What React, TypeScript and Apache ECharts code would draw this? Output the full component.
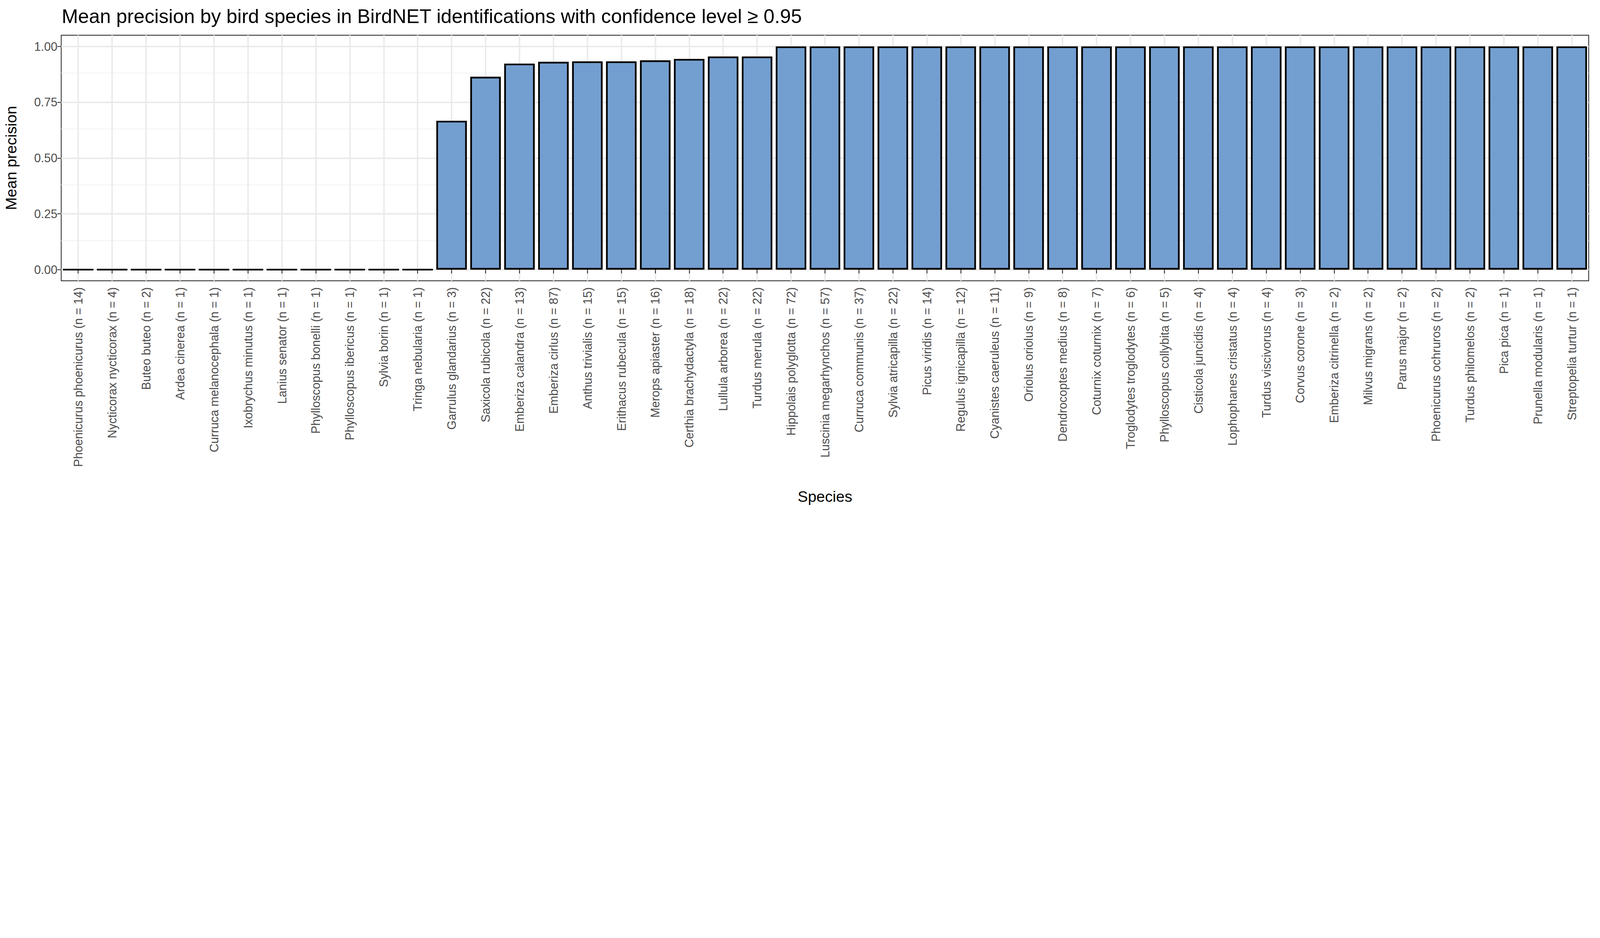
import React, { useEffect, useRef } from 'react';
import * as echarts from 'echarts';

const species = [
    'Phoenicurus phoenicurus', 'Nycticorax nycticorax', 'Buteo buteo', 'Ardea cinerea',
    'Curruca melanocephala', 'Ixobrychus minutus', 'Lanius senator', 'Phylloscopus bonelli',
    'Phylloscopus ibericus', 'Sylvia borin', 'Tringa nebularia', 'Garrulus glandarius',
    'Saxicola rubicola', 'Emberiza calandra', 'Emberiza cirlus', 'Anthus trivialis',
    'Erithacus rubecula', 'Merops apiaster', 'Certhia brachydactyla', 'Lullula arborea',
    'Turdus merula', 'Hippolais polyglotta', 'Luscinia megarhynchos', 'Curruca communis',
    'Sylvia atricapilla', 'Picus viridis', 'Regulus ignicapilla', 'Cyanistes caeruleus',
    'Oriolus oriolus', 'Dendrocoptes medius', 'Coturnix coturnix', 'Troglodytes troglodytes',
    'Phylloscopus collybita', 'Cisticola juncidis', 'Lophophanes cristatus', 'Turdus viscivorus',
    'Corvus corone', 'Emberiza citrinella', 'Milvus migrans', 'Parus major',
    'Phoenicurus ochruros', 'Turdus philomelos', 'Pica pica', 'Prunella modularis',
    'Streptopelia turtur',
];

const counts = [
    14, 4, 2, 1, 1, 1, 1, 1, 1, 1, 1, 3, 22, 13, 87, 15, 15, 16, 18, 22, 22, 72, 57, 37,
    22, 14, 12, 11, 9, 8, 7, 6, 5, 4, 4, 4, 3, 2, 2, 2, 2, 2, 1, 1, 1,
];

const precision = [
    0, 0, 0, 0, 0, 0, 0, 0, 0, 0, 0, 0.667, 0.864, 0.923, 0.931, 0.933, 0.933, 0.9375,
    0.944, 0.955, 0.955, 1, 1, 1, 1, 1, 1, 1, 1, 1, 1, 1, 1, 1, 1, 1, 1, 1, 1, 1, 1, 1, 1, 1, 1,
];

const yTicks = [0, 0.25, 0.5, 0.75, 1];
const yMinor = [0.125, 0.375, 0.625, 0.875];

const App: React.FC = () => {
    const chartRef = useRef<HTMLDivElement>(null);

    useEffect(() => {
        document.body.style.margin = '0';
        document.body.style.overflow = 'hidden';
        if (!chartRef.current) return;
        const chart = echarts.init(chartRef.current, null, { renderer: 'svg' });
        // everything was measured on a 7500px wide picture, scale to the real viewport
        const s = chartRef.current.clientWidth / 7500;
        const labels = species.map((sp, i) => `${sp} (n = ${counts[i]})`);
        const font = 'Liberation Sans, Arial, sans-serif';

        const gridLines = [
            ...yMinor.map((v) => ({ yAxis: v, lineStyle: { color: '#F2F2F2', width: 4 * s, type: 'solid' } })),
            ...yTicks.map((v) => ({ yAxis: v, lineStyle: { color: '#EBEBEB', width: 7 * s, type: 'solid' } })),
            ...labels.map((l) => ({ xAxis: l, lineStyle: { color: '#EBEBEB', width: 7 * s, type: 'solid' } })),
        ];

        chart.setOption({
            animation: false,
            backgroundColor: '#fff',
            textStyle: { fontFamily: font },
            title: {
                text: 'Mean precision by bird species in BirdNET identifications with confidence level ≥ 0.95',
                left: 280 * s,
                top: 22 * s,
                textStyle: { fontSize: 92 * s, fontWeight: 'normal', color: '#000', fontFamily: font },
            },
            grid: {
                left: 287 * s, right: 53 * s, top: 165 * s, bottom: 1085 * s,
                show: true, borderColor: '#333', borderWidth: 4 * s, backgroundColor: '#fff',
            },
            xAxis: {
                type: 'category',
                data: labels,
                name: 'Species',
                nameLocation: 'middle',
                nameGap: 975 * s,
                nameTextStyle: { fontSize: 72 * s, color: '#000' },
                axisLine: { show: false },
                axisTick: { show: true, alignWithLabel: true, length: 18 * s, lineStyle: { color: '#333', width: 4 * s } },
                axisLabel: { rotate: 90, interval: 0, fontSize: 56 * s, color: '#4D4D4D', margin: 30 * s },
                splitLine: { show: false },
            },
            yAxis: {
                type: 'value',
                min: -0.05,
                max: 1.05,
                name: 'Mean precision',
                nameLocation: 'middle',
                nameGap: 200 * s,
                nameTextStyle: { fontSize: 72 * s, color: '#000' },
                axisLine: { show: false },
                axisTick: { show: true, customValues: yTicks, length: 18 * s, lineStyle: { color: '#333', width: 4 * s } },
                axisLabel: {
                    customValues: yTicks, fontSize: 56 * s, color: '#4D4D4D', margin: 18 * s,
                    formatter: (v: number) => v.toFixed(2),
                },
                splitLine: { show: false },
            },
            series: [
                {
                    type: 'bar',
                    data: precision,
                    barWidth: '90%',
                    itemStyle: { color: '#739FD0', borderColor: '#000', borderWidth: 8 * s },
                    markLine: {
                        silent: true,
                        symbol: 'none',
                        label: { show: false },
                        z: 0,
                        data: gridLines,
                    },
                    z: 3,
                },
            ],
        });

        return () => {
            chart.dispose();
        };
    }, []);

    return <div ref={chartRef} style={{ width: '100vw', height: 'calc(100vw * 0.32)' }} />;
};

export default App;
